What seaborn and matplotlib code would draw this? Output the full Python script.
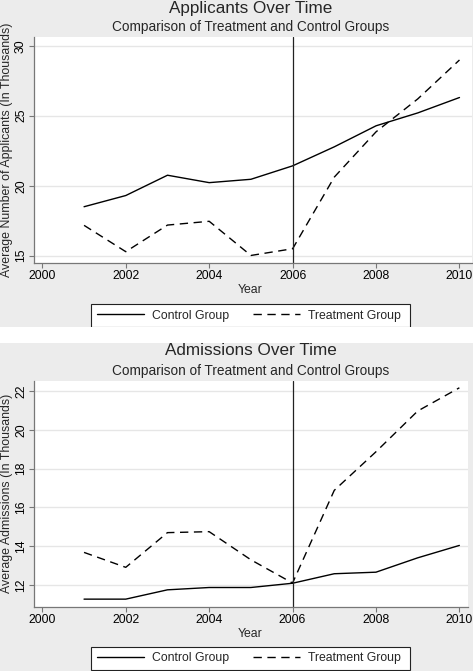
import numpy as np
import pandas as pd
import matplotlib
matplotlib.use("Agg")
import matplotlib.pyplot as plt
import seaborn as sns
from matplotlib.patches import Rectangle
from matplotlib.lines import Line2D

years = [2001, 2002, 2003, 2004, 2005, 2006, 2007, 2008, 2009, 2010]
groups = ["Control Group", "Treatment Group"]
app_control = [18.5, 19.3, 20.75, 20.22, 20.46, 21.42, 22.78, 24.28, 25.2, 26.3]
app_treatment = [17.17, 15.29, 17.19, 17.46, 15.02, 15.5, 20.62, 23.85, 26.2, 28.98]
adm_control = [11.27, 11.27, 11.75, 11.87, 11.87, 12.09, 12.58, 12.66, 13.4, 14.04]
adm_treatment = [13.68, 12.91, 14.7, 14.75, 13.3, 12.1, 16.88, 18.87, 20.97, 22.17]
titles = ["Applicants Over Time", "Admissions Over Time"]
subtitle = "Comparison of Treatment and Control Groups"
ylabels = ["Average Number of Applicants (In Thousands)", "Average Admissions (In Thousands)"]
xticks = [2000, 2002, 2004, 2006, 2008, 2010]
yticks_app = [15, 20, 25, 30]
yticks_adm = [12, 14, 16, 18, 20, 22]

sns.set_theme(style="white")
plt.rcParams['font.family'] = ['Liberation Sans', 'DejaVu Sans']

W, H = 473, 671
fig = plt.figure(figsize=(W / 100, H / 100), dpi=100)
fig.patch.set_facecolor("white")
BG = "#ececec"

def fx(px):
    return px / W

def fy(py):
    return 1 - py / H

# panel backgrounds
fig.patches.append(Rectangle((0, fy(327)), 1, fy(0) - fy(327), transform=fig.transFigure,
                             facecolor=BG, edgecolor="none", zorder=-10))
fig.patches.append(Rectangle((0, 0), 1, fy(343), transform=fig.transFigure,
                             facecolor=BG, edgecolor="none", zorder=-10))

panels = [
    dict(ctrl=app_control, trt=app_treatment, yt=yticks_app, ylim=(14.46, 30.6),
         box=(34, 472, 37.3, 263.3), xlim=(1999.8, 2010.3), title_y=8, sub_y=27,
         xlab_y=290, leg_top=304),
    dict(ctrl=adm_control, trt=adm_treatment, yt=yticks_adm, ylim=(10.88, 22.52),
         box=(34, 467.7, 381, 606.7), xlim=(1999.8, 2010.2), title_y=351, sub_y=370.5,
         xlab_y=634, leg_top=647),
]

FS = 8.8
for i, p in enumerate(panels):
    x0, x1, y0, y1 = p["box"]
    ax = fig.add_axes([fx(x0), fy(y1), fx(x1 - x0), fy(y0) - fy(y1)])
    ax.set_facecolor("white")
    df = pd.DataFrame({
        "Year": years * 2,
        "Value": p["ctrl"] + p["trt"],
        "Group": [groups[0]] * len(years) + [groups[1]] * len(years),
    })
    ax.yaxis.grid(True, color="#e6e6e6", lw=1.0)
    ax.set_axisbelow(True)
    sns.lineplot(data=df, x="Year", y="Value", style="Group", color="black",
                 dashes={groups[0]: "", groups[1]: (6, 4)}, linewidth=1.0,
                 ax=ax, legend=False)
    ax.axvline(2006, color="#222222", lw=0.9)
    ax.set_xlim(*p["xlim"])
    ax.set_ylim(*p["ylim"])
    ax.set_xticks(xticks)
    ax.set_xticklabels([str(t) for t in xticks], fontsize=FS)
    ax.set_yticks(p["yt"])
    ax.set_yticklabels([str(t) for t in p["yt"]], fontsize=FS, rotation=90, va="center")
    ax.set_xlabel("")
    ax.set_ylabel(ylabels[i], fontsize=8.9, labelpad=1.5)
    for s in ["top", "right"]:
        ax.spines[s].set_visible(False)
    for s in ["left", "bottom"]:
        ax.spines[s].set_color("#777777")
        ax.spines[s].set_linewidth(0.9)
    ax.tick_params(axis="both", which="major", direction="out", length=3.5, width=0.8,
                   color="#777777", pad=1.5, labelcolor="black")
    ax.tick_params(axis="x", bottom=True)
    ax.tick_params(axis="y", left=True)

    fig.text(fx(251), fy(p["title_y"]), titles[i], ha="center", va="center", fontsize=12.3)
    fig.text(fx(251), fy(p["sub_y"]), subtitle, ha="center", va="center", fontsize=9.8)
    fig.text(fx(250), fy(p["xlab_y"]), "Year", ha="center", va="center", fontsize=FS)

    handles = [Line2D([], [], color="black", lw=1.0),
               Line2D([], [], color="black", lw=1.0, dashes=(6, 4))]
    leg = fig.legend(handles, [g + " " for g in groups], loc="upper left",
                     bbox_to_anchor=(fx(91), fy(p["leg_top"])), ncol=2, fontsize=8.8,
                     frameon=True, fancybox=False, edgecolor="#222222", framealpha=1,
                     handlelength=3.85, columnspacing=1.75, borderpad=0.45,
                     borderaxespad=0, handletextpad=0.65)
    leg.get_frame().set_linewidth(0.8)

# white gap between panels covers legend bottom
fig.patches.append(Rectangle((0, fy(343)), 1, fy(327) - fy(343), transform=fig.transFigure,
                             facecolor="white", edgecolor="none", zorder=20))

fig.savefig("out.png", dpi=100)
